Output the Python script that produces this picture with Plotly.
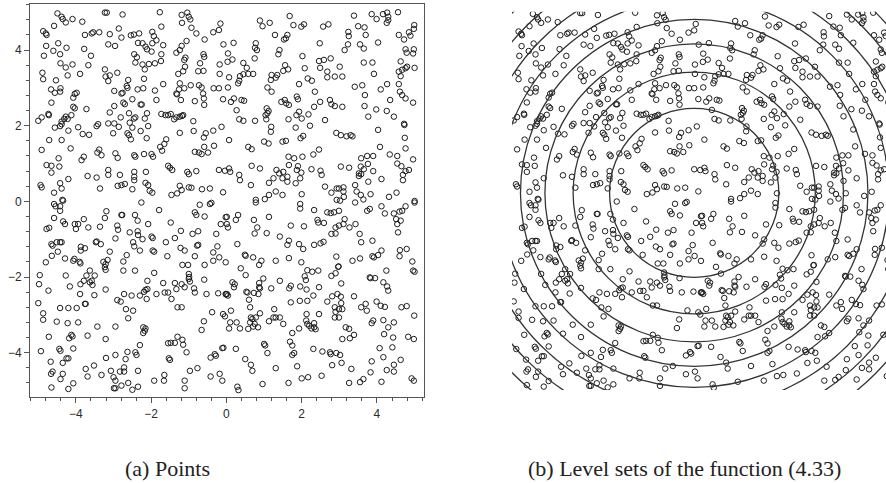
import plotly.graph_objects as go

# ---- data: sample points (x, y) by quadrant ----
pts_top_left = [(-4.49,4.97),(-4.38,4.88),(-4.35,4.82),(-4.27,4.73),(-4.09,4.82),(-3.83,4.75),(-3.23,4.99),(-3.18,4.99),(-2.76,4.94),(-1.77,5.00),(-1.19,4.93),(-1.04,4.99),(-1.00,4.88),(-0.96,4.81),(-1.18,4.72),(-0.16,4.70),(-4.58,4.64),(-1.73,4.62),(-0.93,4.59),(-0.20,4.53),(-4.87,4.50),(-4.80,4.44),(-4.78,4.40),(-3.76,4.40),(-3.58,4.44),(-3.54,4.47),(-3.38,4.47),(-3.10,4.42),(-2.86,4.57),(-2.79,4.33),(-2.54,4.39),(-2.46,4.41),(-2.32,4.44),(-1.97,4.48),(-1.93,4.37),(-0.80,4.44),(-0.35,4.47),(-0.58,4.28),(-0.08,4.15),(-4.79,4.11),(-4.47,4.18),(-4.25,4.06),(-3.14,4.15),(-2.96,4.11),(-2.35,4.19),(-2.23,4.18),(-2.15,4.09),(-2.11,4.02),(-1.97,4.18),(-1.86,4.26),(-1.68,4.13),(-1.19,4.11),(-1.06,4.24),(-4.60,3.98),(-4.42,3.89),(-4.85,3.85),(-3.78,4.03),(-3.60,3.85),(-1.99,3.96),(-1.73,3.89),(-2.45,3.89),(-2.38,3.81),(-2.42,3.67),(-2.23,3.62),(-2.06,3.63),(-1.90,3.65),(-1.74,3.71),(-1.33,3.93),(-1.24,4.00),(-1.09,3.80),(-1.12,3.74),(-0.61,3.89),(-0.59,3.82),(-4.41,3.65),(-4.27,3.54),(-4.09,3.62),(-3.67,3.60),(-1.10,3.56),(-0.70,3.65),(-0.18,3.62),(-4.89,3.40),(-4.87,3.23),(-4.53,3.20),(-4.22,3.33),(-3.89,3.37),(-3.23,3.49),(-3.21,3.30),(-3.10,3.33),(-3.14,3.18),(-2.90,3.40),(-2.17,3.49),(-2.19,3.24),(-2.61,3.21),(-1.68,3.10),(-1.28,3.37),(-1.15,3.44),(-0.75,3.44),(-0.61,3.45),(-0.18,3.37),(-1.24,3.12),(-0.95,3.07),(-0.73,3.07),(-2.65,3.05),(-2.63,3.00),(-4.66,2.96),(-4.56,2.87),(-4.42,2.90),(-4.41,2.99),(-4.03,2.84),(-3.98,2.87),(-4.07,2.74),(-2.98,2.92),(-2.79,2.85),(-2.76,2.87),(-2.36,2.96),(-2.21,2.99),(-1.90,2.93),(-1.33,2.85),(-1.31,2.83),(-1.26,2.96),(-1.12,2.99),(-0.66,3.01),(-0.62,2.85),(-0.34,2.99),(-0.20,2.99),(-0.09,2.70),(-4.65,2.61),(-4.07,2.50),(-4.03,2.46),(-3.72,2.44),(-2.98,2.52),(-2.74,2.61),(-2.70,2.57),(-2.50,2.70),(-2.28,2.56),(-2.25,2.56),(-1.86,2.68),(-1.21,2.68),(-0.84,2.65),(-0.60,2.72),(-0.59,2.55),(-3.10,2.35),(-2.59,2.33),(-2.11,2.33),(-4.73,2.31),(-4.72,2.28),(-5.00,2.13),(-4.91,2.22),(-4.31,2.18),(-4.27,2.24),(-4.22,2.18),(-4.38,2.11),(-4.12,2.28),(-2.81,2.22),(-2.46,2.19),(-2.42,2.22),(-2.17,2.19),(-1.73,2.31),(-1.62,2.28),(-1.55,2.28),(-1.48,2.31),(-1.39,2.17),(-1.33,2.22),(-1.24,2.24),(-1.18,2.26),(-1.15,2.28),(-0.88,2.12),(-2.98,2.06),(-2.57,2.08),(-2.08,1.99),(-4.56,1.95),(-4.42,1.99),(-4.38,2.04),(-3.45,1.99),(-3.41,2.04),(-3.14,2.06),(-2.86,1.97),(-0.13,1.97),(-4.20,1.87),(-3.94,1.96),(-3.82,1.78),(-3.65,1.76),(-3.01,1.80),(-2.63,1.80),(-2.59,1.75),(-2.50,1.95),(-2.28,1.86),(-1.24,1.81),(-0.87,1.86),(-0.55,1.80),(-0.60,1.69),(-0.35,1.87),(-2.54,1.64),(-2.12,1.67),(-4.71,1.62),(-4.38,1.62),(-1.76,1.44),(-1.65,1.52),(-1.60,1.64),(-1.71,1.34),(-4.91,1.36),(-4.14,1.40),(-3.38,1.37),(-3.43,1.29),(-3.32,1.22),(-2.95,1.27),(-2.89,1.15),(-2.45,1.22),(-2.42,1.18),(-2.19,1.25),(-1.99,1.25),(-1.95,1.18),(-4.46,1.14),(-4.44,0.92),(-3.85,1.09),(-3.79,1.18),(-4.78,0.96),(-4.65,0.94),(-4.65,0.76),(-4.20,0.59),(-3.69,0.67),(-3.45,0.63),(-3.14,0.83),(-3.14,0.70),(-2.83,0.70),(-2.45,0.78),(-2.45,0.65),(-2.45,0.56),(-2.14,0.78),(-1.55,0.94),(-1.50,0.89),(-1.44,0.83),(-1.04,0.78),(-1.00,0.72),(-0.80,0.80),(-0.20,0.83),(-0.04,0.81),(-4.94,0.43),(-4.91,0.37),(-4.42,0.48),(-4.38,0.34),(-4.58,0.23),(-4.36,0.04),(-3.36,0.34),(-2.89,0.41),(-2.79,0.43),(-2.70,0.46),(-2.50,0.32),(-2.15,0.49),(-2.08,0.43),(-2.04,0.28),(-1.97,0.23),(-1.46,0.17),(-1.31,0.21),(-1.24,0.41),(-1.19,0.30),(-1.00,0.37),(-0.93,0.36),(-0.65,0.32),(-0.44,0.34),(-0.09,0.24),(-0.84,1.31),(-0.73,1.29),(-0.66,1.25),(-0.49,1.29),(-0.59,1.44),(-0.33,1.47)]

pts_top_right = [(1.68,4.90),(0.89,4.78),(0.96,4.63),(1.15,4.72),(1.78,4.66),(1.99,4.62),(2.06,4.68),(2.57,4.62),(2.71,4.68),(3.39,4.91),(3.50,4.63),(3.67,4.60),(3.70,4.40),(3.86,4.95),(3.99,4.82),(4.16,4.95),(4.27,4.99),(4.30,4.88),(4.26,4.72),(4.30,4.79),(4.56,5.00),(4.99,4.66),(1.29,4.40),(1.58,4.31),(1.62,4.40),(1.53,4.28),(2.48,4.18),(3.24,4.48),(3.25,4.37),(3.14,4.00),(3.23,4.15),(3.55,4.15),(3.65,4.04),(4.03,4.20),(4.58,4.40),(4.72,4.28),(4.85,4.47),(4.89,4.38),(4.98,4.56),(0.19,4.19),(0.78,4.18),(0.76,4.06),(0.81,4.00),(0.75,3.78),(0.04,3.91),(0.03,3.69),(0.16,3.75),(0.45,3.66),(0.54,3.53),(1.41,4.00),(1.38,3.89),(2.02,3.84),(2.46,3.71),(2.59,3.74),(2.77,3.78),(2.49,3.53),(3.01,3.56),(3.65,3.67),(3.88,3.67),(4.63,3.70),(4.76,3.52),(4.67,3.48),(4.80,3.56),(4.76,4.02),(4.79,3.93),(4.98,4.02),(4.96,3.91),(5.00,3.53),(1.56,3.60),(1.64,3.49),(1.51,3.45),(2.08,3.52),(2.68,3.43),(2.68,3.28),(2.88,3.30),(3.08,3.30),(0.07,3.28),(0.36,3.31),(0.45,3.36),(0.58,3.37),(0.71,3.37),(0.34,3.19),(0.31,3.12),(1.20,3.34),(1.18,3.21),(1.31,3.27),(1.35,3.34),(1.09,3.01),(1.20,2.90),(1.93,3.10),(2.16,3.25),(2.27,3.19),(2.35,2.90),(3.41,3.03),(3.61,3.07),(3.92,3.37),(4.10,2.96),(4.27,3.10),(4.58,3.43),(4.63,3.31),(4.58,3.10),(4.61,2.90),(4.67,2.81),(4.76,2.72),(4.96,2.61),(0.04,3.01),(0.12,2.63),(0.20,2.72),(0.27,2.41),(0.40,2.68),(0.47,2.66),(1.07,2.46),(1.09,2.33),(1.12,2.39),(1.46,2.63),(1.55,2.68),(1.59,2.59),(1.66,2.55),(1.87,2.77),(1.90,2.70),(1.93,2.37),(2.33,2.50),(2.49,2.63),(2.75,2.68),(2.79,2.57),(2.88,2.52),(3.08,2.50),(3.68,2.81),(3.67,2.52),(3.98,2.43),(4.35,2.68),(4.26,2.39),(4.45,2.24),(0.34,2.17),(0.45,2.13),(0.76,2.13),(1.04,2.28),(1.06,2.17),(1.19,1.97),(1.18,1.84),(1.65,2.17),(1.86,2.28),(2.00,2.19),(2.18,2.30),(1.84,1.95),(2.22,2.00),(2.62,2.15),(3.77,2.24),(4.03,1.89),(4.73,2.02),(4.72,2.05),(2.92,1.81),(3.04,1.75),(3.19,1.72),(3.30,1.75),(3.35,1.72),(0.58,1.44),(0.67,1.38),(1.00,1.58),(1.12,1.53),(1.49,1.58),(1.58,1.60),(1.97,1.67),(2.04,1.73),(0.07,1.62),(4.74,1.68),(4.76,1.40),(1.65,1.18),(1.80,1.14),(2.02,1.18),(2.31,1.24),(2.46,1.37),(3.58,1.14),(3.74,1.20),(3.90,1.20),(4.08,1.44),(4.34,1.24),(4.54,1.20),(4.54,1.00),(4.96,1.11),(3.57,0.92),(3.76,0.99),(3.58,0.72),(3.90,0.80),(4.65,0.93),(4.76,0.80),(4.85,0.83),(4.69,0.70),(4.69,0.56),(0.07,0.87),(0.10,0.78),(0.34,0.70),(0.36,0.56),(0.67,0.94),(0.65,0.43),(0.89,0.87),(1.13,0.49),(1.25,0.61),(1.33,0.83),(1.40,0.74),(1.51,0.78),(1.49,0.61),(1.62,0.65),(1.62,0.52),(1.66,0.96),(1.87,0.83),(1.90,0.93),(1.99,0.76),(1.96,0.61),(1.84,0.48),(2.26,0.85),(2.50,0.81),(2.53,0.70),(3.04,0.92),(3.26,0.89),(3.52,0.74),(3.52,0.67),(3.65,0.85),(3.77,0.52),(4.12,0.59),(2.62,0.39),(0.78,0.04),(1.02,0.06),(1.13,0.17),(1.31,0.26),(1.49,0.17),(2.00,0.19),(2.79,0.23),(2.93,0.34),(2.99,0.34),(3.11,0.37),(3.11,0.26),(3.12,0.12),(3.42,0.43),(3.46,0.26),(3.57,0.17),(3.64,0.05),(3.83,0.19),(4.32,0.12),(4.52,0.23),(5.00,0.01),(2.93,0.04),(3.02,0.02)]

pts_bottom_left = [(-4.58,-0.07),(-4.54,-0.13),(-4.42,-0.13),(-4.42,-0.25),(-4.34,0.02),(-4.58,-0.44),(-4.34,-0.53),(-4.29,-0.60),(-4.78,-0.73),(-4.71,-0.70),(-4.03,-0.60),(-3.94,-0.60),(-4.00,-0.73),(-3.79,-0.47),(-3.67,-0.69),(-3.36,-0.67),(-3.19,-0.26),(-3.23,-0.44),(-2.79,-0.36),(-2.77,-0.36),(-2.90,-0.64),(-2.88,-0.75),(-2.43,-0.36),(-2.36,-0.51),(-2.26,-0.03),(-2.08,-0.60),(-1.79,-0.23),(-1.48,-0.56),(-0.71,-0.09),(-0.44,-0.07),(-0.40,-0.04),(-0.84,-0.29),(-0.80,-0.36),(-0.58,-0.40),(-0.02,-0.42),(-0.15,-0.60),(-2.95,-0.98),(-2.57,-0.82),(-2.36,-0.79),(-2.35,-0.89),(-1.99,-0.93),(-1.96,-0.97),(-1.61,-1.08),(-1.37,-0.97),(-1.21,-0.78),(-0.90,-0.86),(-0.75,-0.79),(-0.27,-0.86),(-4.65,-1.13),(-4.62,-1.17),(-4.51,-1.08),(-4.42,-1.08),(-4.38,-1.08),(-4.64,-1.44),(-4.48,-1.33),(-4.80,-1.61),(-4.27,-1.96),(-3.87,-1.20),(-3.87,-1.30),(-3.76,-1.24),(-3.47,-1.08),(-3.45,-1.06),(-3.34,-1.13),(-3.10,-1.33),(-2.74,-1.59),(-2.65,-1.42),(-2.48,-1.08),(-2.45,-1.19),(-2.30,-1.30),(-2.23,-1.00),(-1.96,-1.30),(-1.92,-1.33),(-1.22,-1.23),(-1.11,-1.30),(-0.84,-1.45),(-0.78,-1.17),(-0.75,-1.15),(-0.35,-1.35),(-0.24,-1.19),(-0.19,-1.48),(-0.02,-1.61),(-4.29,-1.51),(-4.04,-1.52),(-4.07,-1.57),(-3.90,-1.60),(-3.88,-1.64),(-3.27,-1.60),(-3.21,-1.66),(-3.16,-1.55),(-3.23,-1.74),(-3.21,-1.81),(-2.74,-1.83),(-2.43,-1.83),(-2.10,-2.10),(-1.92,-1.89),(-1.57,-1.45),(-1.17,-1.68),(-1.02,-1.68),(-0.58,-1.68),(-0.35,-1.57),(-4.96,-1.95),(-4.98,-2.19),(-4.73,-2.36),(-4.16,-2.25),(-3.88,-2.19),(-3.79,-2.10),(-3.72,-1.96),(-3.63,-1.83),(-3.58,-2.10),(-3.63,-2.14),(-3.56,-2.21),(-3.50,-1.96),(-3.89,-2.45),(-3.51,-2.48),(-3.21,-2.33),(-2.72,-2.45),(-2.52,-2.49),(-2.30,-2.49),(-2.19,-2.39),(-2.15,-2.34),(-2.10,-2.32),(-2.12,-2.58),(-1.86,-2.45),(-1.68,-2.16),(-1.64,-2.41),(-1.55,-2.41),(-1.46,-2.58),(-1.37,-2.16),(-1.33,-2.32),(-1.19,-2.19),(-1.11,-2.27),(-1.00,-1.92),(-0.99,-2.00),(-0.97,-2.12),(-1.00,-2.05),(-0.86,-2.30),(-0.84,-2.41),(-0.59,-2.07),(-0.53,-2.45),(-0.22,-2.43),(-0.02,-2.45),(-0.01,-2.46),(-5.00,-2.69),(-4.87,-2.96),(-4.87,-3.13),(-4.42,-2.82),(-4.20,-2.82),(-3.98,-2.82),(-3.76,-2.71),(-3.74,-2.71),(-4.51,-3.18),(-4.22,-3.22),(-3.94,-3.20),(-3.43,-3.31),(-2.95,-3.31),(-2.90,-2.61),(-2.81,-2.65),(-2.67,-2.85),(-2.61,-3.09),(-2.48,-2.89),(-2.21,-3.33),(-2.17,-3.42),(-2.21,-3.48),(-2.15,-3.36),(-1.30,-2.80),(-1.19,-2.80),(-0.38,-2.93),(-0.09,-2.98),(-0.04,-3.04),(-0.60,-3.17),(-0.66,-3.40),(-4.12,-3.53),(-4.09,-3.57),(-4.72,-3.58),(-4.18,-3.62),(-3.69,-3.55),(-3.21,-3.64),(-4.93,-3.96),(-4.44,-3.90),(-4.41,-3.95),(-4.07,-3.89),(-4.67,-4.24),(-4.35,-4.27),(-4.25,-4.15),(-4.20,-4.15),(-4.62,-4.50),(-4.66,-4.56),(-4.35,-4.56),(-4.41,-4.70),(-4.07,-4.81),(-4.65,-4.92),(-4.20,-4.96),(-3.74,-4.43),(-3.69,-4.63),(-3.52,-4.34),(-3.32,-4.59),(-3.20,-4.14),(-2.95,-4.06),(-3.07,-4.48),(-3.00,-4.65),(-2.95,-4.74),(-2.99,-4.94),(-2.95,-4.94),(-2.83,-4.50),(-2.72,-4.50),(-2.72,-4.39),(-2.79,-4.87),(-2.68,-4.17),(-2.63,-3.98),(-2.61,-4.80),(-2.50,-4.98),(-2.42,-3.99),(-2.39,-4.06),(-2.35,-4.48),(-2.35,-4.90),(-2.30,-3.80),(-1.92,-4.74),(-1.65,-4.59),(-1.66,-4.74),(-1.55,-3.75),(-1.48,-3.74),(-1.37,-3.74),(-1.53,-4.15),(-1.50,-4.19),(-1.30,-3.58),(-1.17,-3.66),(-1.15,-3.79),(-1.06,-3.99),(-1.11,-4.74),(-1.11,-4.94),(-0.97,-4.48),(-0.77,-4.41),(-0.42,-4.13),(-0.31,-4.04),(-0.28,-4.08),(-0.18,-4.56),(-0.42,-4.63),(-0.11,-4.74),(-0.11,-3.88),(-0.08,-3.87)]

pts_bottom_right = [(0.78,-0.03),(1.96,-0.07),(1.96,-0.19),(2.33,-0.23),(2.68,-0.29),(2.77,-0.31),(2.86,-0.29),(2.99,-0.25),(3.14,-0.47),(3.42,-0.03),(3.74,-0.25),(3.81,-0.20),(4.12,-0.13),(4.21,-0.32),(4.45,-0.32),(4.60,-0.27),(4.67,-0.25),(4.76,-0.13),(4.51,-0.47),(4.63,-0.51),(4.54,-0.60),(4.56,-0.82),(5.00,-0.03),(0.01,-0.41),(0.01,-0.60),(0.04,-0.69),(0.25,-0.49),(0.31,-0.36),(0.73,-0.49),(0.82,-0.69),(0.75,-0.85),(1.07,-0.84),(1.13,-0.41),(1.71,-0.64),(2.06,-0.66),(2.42,-0.49),(2.44,-0.56),(2.59,-0.57),(2.90,-0.69),(2.99,-0.64),(2.90,-0.85),(2.79,-0.86),(3.11,-0.60),(3.27,-0.69),(3.43,-0.60),(3.54,-0.86),(3.58,-1.08),(1.42,-0.93),(0.29,-1.13),(1.62,-1.15),(1.66,-1.04),(1.93,-1.13),(2.04,-1.26),(2.33,-1.15),(2.50,-1.11),(2.58,-1.07),(0.49,-1.41),(0.51,-1.44),(0.71,-1.48),(0.87,-1.68),(0.93,-1.57),(1.31,-1.57),(1.66,-1.50),(1.99,-1.61),(2.92,-1.46),(2.98,-1.72),(3.35,-1.57),(3.55,-1.51),(3.88,-1.04),(3.88,-1.45),(3.92,-1.48),(4.03,-1.42),(4.12,-1.30),(4.61,-1.29),(4.79,-1.26),(4.60,-1.45),(4.94,-1.59),(4.96,-1.83),(5.00,-1.86),(0.38,-1.77),(0.51,-1.95),(0.98,-2.04),(0.87,-2.16),(1.19,-2.30),(1.42,-2.10),(1.67,-2.30),(1.71,-2.23),(1.96,-2.25),(2.15,-1.82),(2.28,-1.86),(2.44,-1.83),(2.08,-1.98),(2.11,-2.08),(2.13,-2.33),(2.46,-2.27),(2.79,-1.97),(2.90,-1.90),(2.97,-1.73),(3.05,-2.17),(3.81,-2.01),(3.83,-2.03),(3.95,-2.03),(4.17,-2.14),(4.27,-2.25),(4.30,-2.36),(4.25,-1.83),(0.16,-2.14),(0.22,-2.19),(0.20,-2.27),(0.01,-2.45),(0.04,-2.49),(0.53,-2.39),(0.56,-2.41),(0.73,-2.42),(0.87,-2.27),(0.89,-2.30),(0.60,-2.60),(0.63,-2.80),(0.85,-2.45),(1.71,-2.67),(1.95,-2.63),(2.15,-2.63),(2.31,-2.49),(2.68,-2.65),(2.81,-2.51),(2.95,-2.45),(3.04,-2.52),(3.05,-2.69),(3.39,-2.51),(3.99,-2.65),(4.10,-2.76),(4.21,-2.79),(3.58,-2.80),(3.70,-2.71),(3.73,-2.89),(4.65,-2.80),(4.79,-2.77),(4.99,-3.02),(0.12,-2.89),(0.10,-3.20),(0.07,-3.36),(0.36,-3.36),(0.27,-3.20),(0.65,-3.07),(0.69,-3.11),(0.78,-3.07),(0.89,-2.96),(0.63,-3.20),(0.75,-3.24),(0.71,-3.31),(0.84,-3.33),(0.58,-3.37),(1.13,-3.17),(1.25,-3.07),(1.31,-3.07),(1.42,-3.07),(1.51,-3.24),(1.27,-2.85),(1.75,-3.48),(1.93,-3.36),(2.13,-2.98),(2.12,-3.15),(2.15,-3.24),(2.20,-3.29),(2.26,-3.36),(2.33,-3.22),(2.33,-3.33),(2.37,-3.38),(2.46,-2.98),(2.88,-2.80),(2.90,-2.92),(2.99,-2.85),(3.08,-2.85),(2.99,-3.07),(2.88,-3.07),(3.17,-3.33),(3.26,-3.37),(3.28,-3.62),(3.39,-3.53),(3.08,-3.64),(3.86,-3.22),(3.90,-3.15),(4.17,-3.14),(4.19,-3.51),(4.30,-3.33),(4.45,-3.20),(4.83,-3.58),(4.98,-3.64),(4.43,-3.60),(1.00,-3.77),(1.03,-3.81),(1.09,-4.01),(0.25,-3.90),(1.69,-3.71),(1.75,-3.81),(1.80,-4.01),(1.75,-4.06),(2.31,-3.90),(2.55,-3.97),(2.75,-3.99),(2.77,-4.04),(2.92,-4.01),(3.02,-4.06),(3.06,-4.27),(2.81,-4.33),(1.88,-4.36),(1.31,-4.41),(0.50,-4.17),(0.65,-4.32),(0.69,-4.48),(0.96,-4.83),(1.65,-4.80),(2.00,-4.68),(2.17,-4.65),(2.53,-4.61),(3.32,-4.43),(3.83,-4.52),(3.86,-4.23),(4.17,-4.12),(4.07,-3.88),(4.26,-4.46),(4.45,-4.50),(4.45,-4.32),(4.63,-4.19),(3.26,-4.80),(3.55,-4.78),(3.64,-4.70),(4.12,-4.77),(4.92,-4.68),(4.98,-4.74),(0.29,-4.90),(0.32,-4.99),(4.41,-3.86)]

# level-set circles of the function (centre and radii)
level_center = (-0.2, 0.2)
level_radii = [2.25, 3.22, 3.97, 4.62, 5.18, 5.76, 6.30, 6.81]

# axis ticks and captions
tick_major = [-4, -2, 0, 2, 4]
caption_a = "(a) Points"
caption_b = "(b) Level sets of the function (4.33)"

# -------------------------------------------------------------------
all_pts = pts_top_left + pts_top_right + pts_bottom_left + pts_bottom_right
px = [p[0] for p in all_pts]
py = [p[1] for p in all_pts]

W, H = 886, 483
marker = dict(symbol="circle-open", size=5.5, color="#1e1e1e", line=dict(width=1.0, color="#1e1e1e"))

fig = go.Figure()
fig.add_trace(go.Scatter(x=px, y=py, mode="markers", marker=marker, xaxis="x", yaxis="y",
                         showlegend=False, hoverinfo="skip"))
fig.add_trace(go.Scatter(x=px, y=py, mode="markers", marker=marker, xaxis="x2", yaxis="y2",
                         showlegend=False, hoverinfo="skip"))

cx, cy = level_center
for r in level_radii:
    fig.add_shape(type="circle", xref="x2", yref="y2",
                  x0=cx - r, x1=cx + r, y0=cy - r, y1=cy + r,
                  line=dict(color="#333333", width=1.3), layer="above")

def pxdom(a, b):
    return [a / W, b / W]

def pydom(top, bottom):
    return [(H - bottom) / H, (H - top) / H]

axis_common = dict(showline=True, mirror=True, linecolor="#555555", linewidth=1,
                   showgrid=False, zeroline=False, ticks="outside", ticklen=5,
                   tickwidth=1, tickcolor="#555555",
                   tickfont=dict(family="Liberation Sans, Arial, sans-serif", size=12, color="#2a2a2a"),
                   tickmode="array", tickvals=tick_major,
                   ticktext=[("\u2212" + str(-v)) if v < 0 else str(v) for v in tick_major],
                   minor=dict(ticks="outside", ticklen=3, tickwidth=1, tickcolor="#555555",
                              dtick=0.4, tick0=0, showgrid=False))

fig.update_layout(
    template="none",
    width=W, height=H,
    margin=dict(l=0, r=0, t=0, b=0),
    paper_bgcolor="white", plot_bgcolor="white",
    xaxis=dict(domain=pxdom(30, 424), range=[-5.22, 5.25], anchor="y", **axis_common),
    yaxis=dict(domain=pydom(4.3, 397.3), range=[-5.18, 5.21], anchor="x", **axis_common),
    xaxis2=dict(domain=pxdom(512, 886), range=[-5.045, 4.90], anchor="y2", visible=False,
                showgrid=False, zeroline=False),
    yaxis2=dict(domain=pydom(11.7, 390), range=[-5.05, 5.027], anchor="x2", visible=False,
                showgrid=False, zeroline=False),
    annotations=[
        dict(text=caption_a, xref="paper", yref="paper", x=167 / W, y=(H - 468) / H,
             xanchor="center", yanchor="middle", showarrow=False,
             font=dict(family="Liberation Serif, Times New Roman, serif", size=22, color="#222222")),
        dict(text=caption_b, xref="paper", yref="paper", x=684 / W, y=(H - 468) / H,
             xanchor="center", yanchor="middle", showarrow=False,
             font=dict(family="Liberation Serif, Times New Roman, serif", size=22, color="#222222")),
    ],
)

fig.write_html("out.html",
               config={"displayModeBar": False},
               post_script="document.body.style.margin='0';document.body.style.overflow='hidden';")
